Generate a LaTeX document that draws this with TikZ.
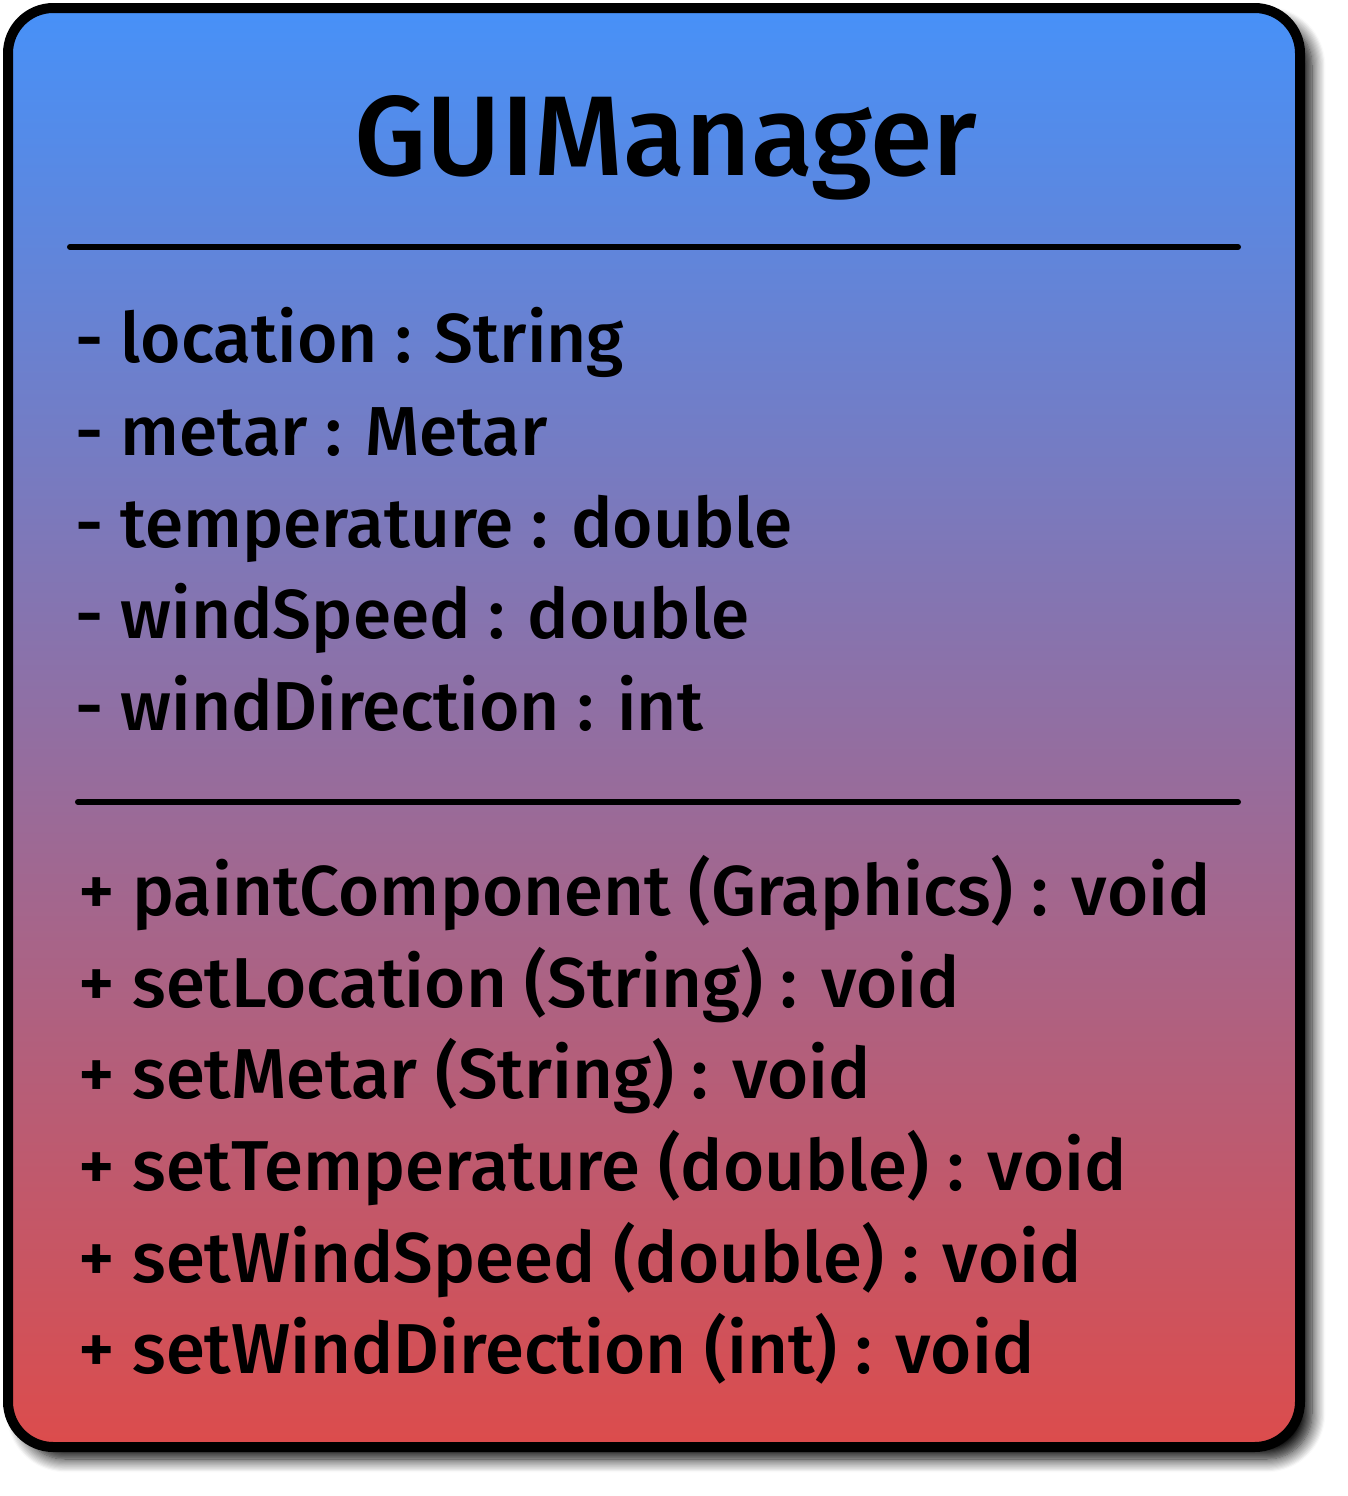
\documentclass[tikz,border=0pt]{standalone}
\usepackage{fontspec}
\setmainfont{Fira Sans}[UprightFont={* Medium}, BoldFont={* SemiBold}]
\usetikzlibrary{shadows.blur}
\definecolor{topblue}{HTML}{4791F8}
\definecolor{botred}{HTML}{DC4C4C}
\tikzset{
  txt/.style={anchor=base west, inner sep=0pt, font=\fontsize{52}{60}\selectfont},
  mtxt/.style={anchor=base west, inner sep=0pt, font=\fontsize{53}{60}\selectfont},
  sep/.style={line width=4.5pt, line cap=round},
}
\begin{document}
\begin{tikzpicture}[x=0.75pt,y=-0.75pt]
\useasboundingbox (0,0) rectangle (1348,1496);
\path[rounded corners=34pt, blur shadow={shadow xshift=9pt, shadow yshift=-9pt, shadow blur radius=10pt, shadow opacity=100, shadow blur steps=12}]
  (8,8) rectangle (1300,1447);
\shade[top color=topblue, bottom color=botred, rounded corners=34pt]
  (8,8) rectangle (1300,1447);
\draw[line width=7.5pt, rounded corners=34pt] (8,8) rectangle (1300,1447);
\node[anchor=base, inner sep=0pt, font=\fontsize{85}{100}\selectfont] (title) at (666,175) {GUIManager};
\coordinate (l1a) at (70,247); \coordinate (l1b) at (1238,247);
\draw[sep] (l1a) -- (l1b);
\node[txt] (a1) at (75,362) {- location : String};
\node[txt] (a2) at (75,455) {- metar : Metar};
\node[txt] (a3) at (75,547) {- temperature : double};
\node[txt] (a4) at (75,638) {- windSpeed : double};
\node[txt] (a5) at (75,730) {- windDirection : int};
\coordinate (l2a) at (78,802); \coordinate (l2b) at (1238,802);
\draw[sep] (l2a) -- (l2b);
\node[mtxt] (m1) at (78,915) {+ paintComponent (Graphics) : void};
\node[mtxt] (m2) at (78,1007) {+ setLocation (String) : void};
\node[mtxt] (m3) at (78,1098) {+ setMetar (String) : void};
\node[mtxt] (m4) at (78,1190) {+ setTemperature (double) : void};
\node[mtxt] (m5) at (78,1282) {+ setWindSpeed (double) : void};
\node[mtxt] (m6) at (78,1373) {+ setWindDirection (int) : void};
\end{tikzpicture}
\end{document}
